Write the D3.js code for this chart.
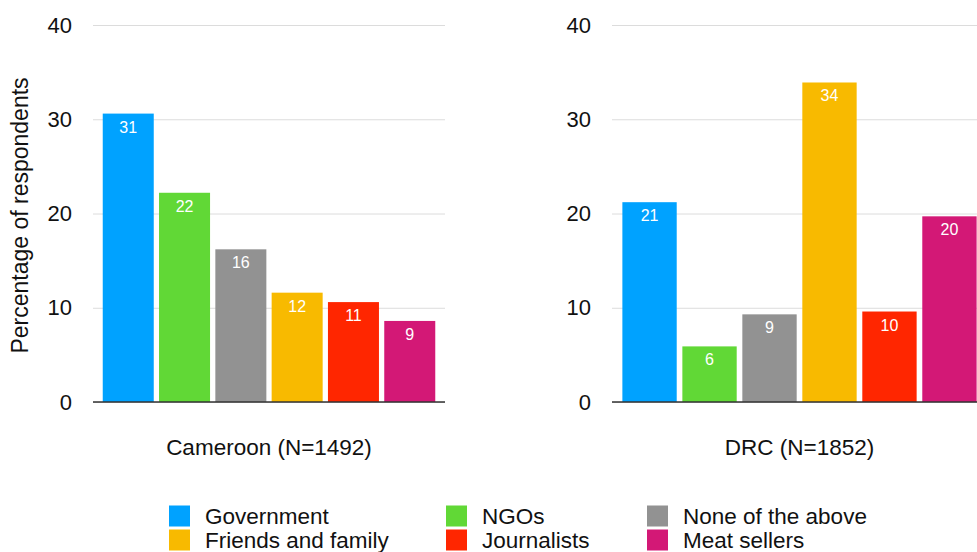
<!DOCTYPE html>
<html>
<head>
<meta charset="utf-8">
<script src="https://cdn.jsdelivr.net/npm/d3@7"></script>
<style>
  html, body { margin: 0; padding: 0; background: #fff; }
  svg { display: block; font-family: "Liberation Sans", Arial, Helvetica, sans-serif; }
</style>
</head>
<body>
<div id="chart"></div>
<script>
// Dados
const categories = ["Government", "NGOs", "None of the above", "Friends and family", "Journalists", "Meat sellers"];
const countries = ["Cameroon (N=1492)", "DRC (N=1852)"];
const cameroonValues = [30.6, 22.2, 16.2, 11.6, 10.6, 8.6];
const drcValues = [21.2, 5.9, 9.3, 33.9, 9.6, 19.7];
const yTicks = [0, 10, 20, 30, 40];
const colors = ["#00A2FF", "#61D836", "#929292", "#F8BA00", "#FF2600", "#D31876"];

// Configuração
const width = 977, height = 552;
const yTop = 25, yBottom = 402;
const panels = [
  { name: countries[0], values: cameroonValues, x0: 93, x1: 445 },
  { name: countries[1], values: drcValues, x0: 612, x1: 987 }
];
const legendCols = [169, 446, 647];
const legendRows = [505.5, 529.5];

const svg = d3.select("#chart").append("svg")
  .attr("width", width)
  .attr("height", height);

const y = d3.scaleLinear().domain([0, 40]).range([yBottom, yTop]);

panels.forEach(p => {
  const g = svg.append("g");

  const x = d3.scaleBand()
    .domain(categories)
    .range([p.x0, p.x1])
    .paddingInner(0.094)
    .paddingOuter(0.173);

  // grade + rótulos do eixo y
  const axis = g.append("g")
    .attr("transform", `translate(${p.x0},0)`)
    .call(d3.axisLeft(y).tickValues(yTicks).tickSize(-(p.x1 - p.x0)).tickPadding(21));
  axis.select(".domain").remove();
  axis.selectAll("line").attr("stroke", "#dcdcdc").attr("stroke-width", 1);
  axis.selectAll("text")
    .attr("fill", "#111")
    .style("font-size", "22px")
    .style("font-family", "Liberation Sans, Arial, sans-serif");

  // barras
  g.selectAll(".bar")
    .data(p.values)
    .enter().append("rect")
    .attr("class", "bar")
    .attr("x", (d, i) => x(categories[i]))
    .attr("y", d => y(d))
    .attr("width", x.bandwidth())
    .attr("height", d => y(0) - y(d))
    .attr("fill", (d, i) => colors[i]);

  // valores
  g.selectAll(".val")
    .data(p.values)
    .enter().append("text")
    .attr("class", "val")
    .attr("x", (d, i) => x(categories[i]) + x.bandwidth() / 2)
    .attr("y", d => y(d) + 19)
    .attr("text-anchor", "middle")
    .attr("fill", "#fff")
    .style("font-size", "16px")
    .text(d => Math.round(d));

  // linha de base
  g.append("line")
    .attr("x1", p.x0).attr("x2", p.x1)
    .attr("y1", y(0)).attr("y2", y(0))
    .attr("stroke", "#333")
    .attr("stroke-width", 1.5);

  // nome do país
  g.append("text")
    .attr("x", (p.x0 + p.x1) / 2)
    .attr("y", 455)
    .attr("text-anchor", "middle")
    .attr("fill", "#111")
    .style("font-size", "22.5px")
    .text(p.name);
});

// título do eixo y
svg.append("text")
  .attr("transform", `translate(28,${(yTop + yBottom) / 2 + 2}) rotate(-90)`)
  .attr("text-anchor", "middle")
  .attr("fill", "#111")
  .style("font-size", "23px")
  .text("Percentage of respondents");

// legenda
const legend = svg.selectAll(".legend")
  .data(categories)
  .enter().append("g")
  .attr("class", "legend")
  .attr("transform", (d, i) => `translate(${legendCols[i % 3]},${legendRows[Math.floor(i / 3)]})`);

legend.append("rect")
  .attr("width", 21)
  .attr("height", 21)
  .attr("fill", (d, i) => colors[i]);

legend.append("text")
  .attr("x", 36)
  .attr("y", 18)
  .attr("fill", "#111")
  .style("font-size", "22.5px")
  .text(d => d);
</script>
</body>
</html>
